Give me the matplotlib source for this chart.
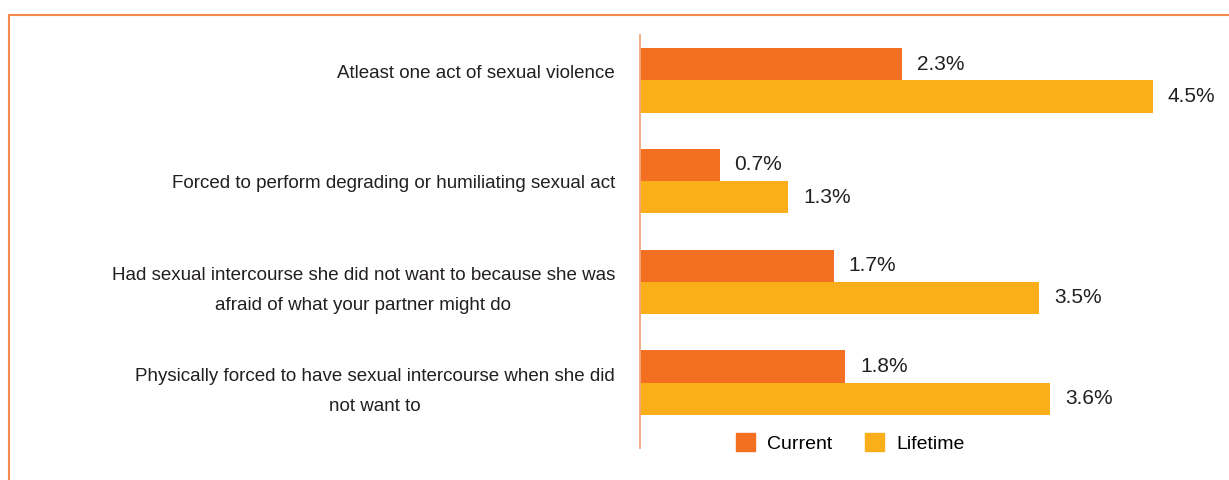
import matplotlib.pyplot as plt
import matplotlib.transforms as mtransforms
from matplotlib.lines import Line2D
from matplotlib.patches import Patch

plt.rcParams['font.family'] = ['Liberation Sans Narrow', 'Liberation Sans', 'DejaVu Sans']

categories = [
    "Atleast one act of sexual violence",
    "Forced to perform degrading or humiliating sexual act",
    "Had sexual intercourse she did not want to because she was\nafraid of what your partner might do",
    "Physically forced to have sexual intercourse when she did\nnot want to",
]
current = [2.3, 0.7, 1.7, 1.8]
lifetime = [4.5, 1.3, 3.5, 3.6]

c_current = "#F36F21"
c_lifetime = "#FAAF1A"
frame_color = "#F58A4B"

W, H = 1229, 480
fig = plt.figure(figsize=(W / 100, H / 100), dpi=100)
ax = fig.add_axes([640 / W, 1 - 448 / H, 1 - 640 / W, (448 - 35) / H])

h = 0.32
ys = list(range(len(categories)))
ax.barh([y - h / 2 for y in ys], current, height=h, color=c_current)
ax.barh([y + h / 2 for y in ys], lifetime, height=h, color=c_lifetime)

for y, c, l in zip(ys, current, lifetime):
    ax.text(c + 0.13, y - h / 2, f"{c}%", va="center", ha="left", fontsize=15, color="#231F20")
    ax.text(l + 0.13, y + h / 2, f"{l}%", va="center", ha="left", fontsize=15, color="#231F20")

ax.set_xlim(0, (W - 640) / 114)
ax.set_ylim(3.65, -0.45)
ax.set_xticks([])
ax.set_yticks(ys)
ax.set_yticklabels(categories, fontsize=13.5, color="#231F20", multialignment="center", linespacing=2.0)
ax.tick_params(axis="y", length=0, pad=18)
# first label sits a bit higher in the original
lab0 = ax.get_yticklabels()[0]
lab0.set_transform(lab0.get_transform() + mtransforms.ScaledTranslation(0, 0.09, fig.dpi_scale_trans))
for s in ["top", "right", "bottom"]:
    ax.spines[s].set_visible(False)
ax.spines["left"].set_color("#F2A77A")
ax.spines["left"].set_linewidth(1.3)

handles = [Patch(color=c_current, label="Current"), Patch(color=c_lifetime, label="Lifetime")]
fig.legend(handles=handles, loc="center", bbox_to_anchor=(850 / W, 1 - 443 / H), ncol=2,
           frameon=False, fontsize=14, handlelength=1.0, handleheight=1.0, columnspacing=1.7,
           handletextpad=0.6)

# orange frame lines top and left
fig.add_artist(Line2D([9 / W, 1], [1 - 15 / H, 1 - 15 / H], color=frame_color, lw=1.5, transform=fig.transFigure))
fig.add_artist(Line2D([9 / W, 9 / W], [0, 1 - 15 / H], color=frame_color, lw=1.5, transform=fig.transFigure))

fig.savefig("out.png", dpi=100)
